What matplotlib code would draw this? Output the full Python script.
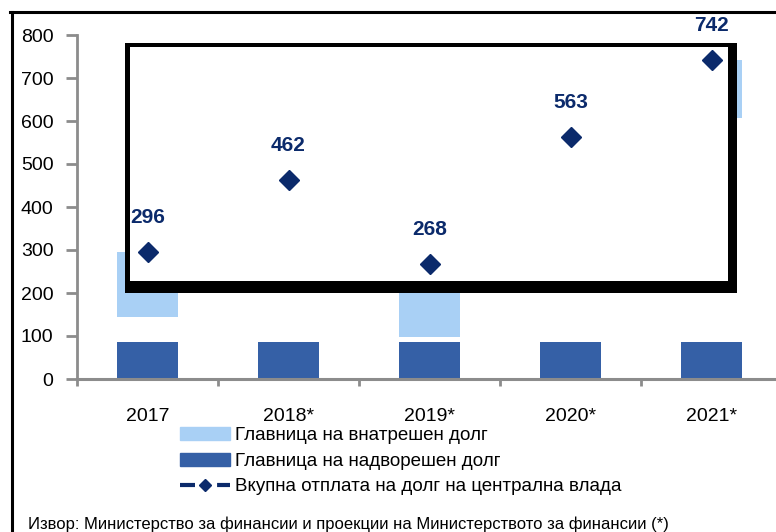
import numpy as np
import matplotlib
matplotlib.use("Agg")
import matplotlib.pyplot as plt
from matplotlib.patches import Rectangle
from matplotlib.lines import Line2D

plt.rcParams['font.family'] = ['Liberation Sans', 'DejaVu Sans']

# data
years = ['2017', '2018*', '2019*', '2020*', '2021*']
external = np.array([86, 86, 86, 86, 86])          # principal of external debt
domestic_start = np.array([144, 300, 98, 380, 607])  # where the light bar begins
total = np.array([296, 462, 268, 563, 742])          # total repayment of central govt debt

light = '#a9d0f5'
dark = '#3560a6'
navy = '#0b2a6b'
grey = '#8c8c8c'

W, H = 776, 532
fig = plt.figure(figsize=(W / 100, H / 100), dpi=100)
ax = fig.add_axes([77 / W, (H - 379) / H, 705 / W, 344 / H])

x = np.arange(len(years))
ax.bar(x, external, width=0.43, color=dark, zorder=2)
ax.bar(x, total - domestic_start, bottom=domestic_start, width=0.43,
       color=light, zorder=2)


def px_rect(x0, y0, x1, y1, color, z):
    # rectangle given in figure pixels (top-left origin)
    r = Rectangle((x0 / W, 1 - y1 / H), (x1 - x0) / W, (y1 - y0) / H,
                  transform=fig.transFigure, facecolor=color, edgecolor='none',
                  zorder=z, clip_on=False)
    ax.add_artist(r)


# the black framed white box that sits over the middle of the plot
px_rect(125, 43, 737, 293, 'black', 3)
px_rect(130, 47, 728, 281, 'white', 3.5)

ax.plot(x, total, ls='none', marker='D', ms=10, color=navy, zorder=5, clip_on=False)
for xi, v in zip(x, total):
    ax.annotate(str(v), (xi, v), xytext=(0, 21), textcoords='offset points',
                ha='center', va='baseline', fontsize=15, fontweight='bold',
                color=navy, zorder=6)

ax.set_xlim(-0.5, 4.5)
ax.set_ylim(0, 800)
ax.set_yticks(np.arange(0, 801, 100))
ax.set_xticks(np.arange(-0.5, 5, 1), minor=False)
ax.set_xticklabels([])
ax.set_xticks(x, minor=True)
ax.set_xticklabels(years, minor=True)
ax.tick_params(axis='x', which='major', length=5, width=2, color=grey, direction='out')
ax.tick_params(axis='x', which='minor', length=0, pad=21, labelsize=14)
ax.tick_params(axis='y', length=8, width=2, color=grey, pad=9, labelsize=14)
for s in ['top', 'right']:
    ax.spines[s].set_visible(False)
ax.spines['left'].set_color(grey)
ax.spines['left'].set_linewidth(2)
ax.spines['bottom'].set_color(grey)
ax.spines['bottom'].set_linewidth(2.2)
ax.spines['bottom'].set_zorder(7)

handles = [
    Rectangle((0, 0), 1, 1, color=light),
    Rectangle((0, 0), 1, 1, color=dark),
    Line2D([], [], color=navy, lw=3, dashes=(3.6, 5.3), marker='D', ms=6),
]
labels = ['Главница на внатрешен долг',
          'Главница на надворешен долг',
          'Вкупна отплата на долг на централна влада']
fig.legend(handles, labels, loc='upper left', bbox_to_anchor=(180 / W, 1 - 427 / H),
           frameon=False, fontsize=13.5, handlelength=2.67, handleheight=0.7,
           handletextpad=0.27, labelspacing=0.45, borderpad=0, borderaxespad=0)

fig.text(28 / W, 3 / H,
         'Извор: Министерство за финансии и проекции на Министерството за финансии (*)',
         fontsize=12, va='baseline', ha='left')

# outer frame (only left and top edges show)
fig.add_artist(Line2D([11.5 / W, 11.5 / W], [0, 1 - 11.5 / H], color='black', lw=2.2,
                      transform=fig.transFigure))
fig.add_artist(Line2D([10 / W, 1], [1 - 11.5 / H, 1 - 11.5 / H], color='black', lw=2.2,
                      transform=fig.transFigure))

fig.savefig('out.png', dpi=100)
